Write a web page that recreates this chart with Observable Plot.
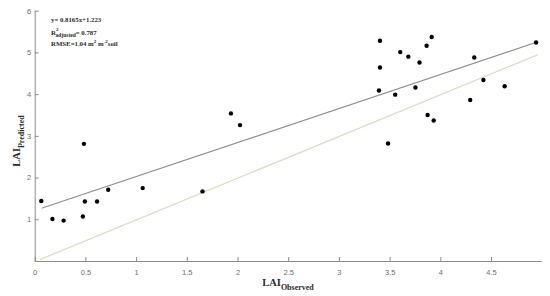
<!DOCTYPE html>
<html>
<head>
<meta charset="utf-8">
<script src="https://cdn.jsdelivr.net/npm/d3@7"></script>
<script src="https://cdn.jsdelivr.net/npm/@observablehq/plot@0.6"></script>
<style>
  html, body { margin: 0; padding: 0; background: #fff; }
  #chart svg { display: block; }
</style>
</head>
<body>
<div id="chart"></div>
<script>
// Observed vs predicted LAI
const observed  = [0.06, 0.17, 0.28, 0.47, 0.49, 0.61, 0.72, 1.06, 1.65, 0.48,
                   1.93, 2.02,
                   3.40, 3.40, 3.39, 3.48, 3.55, 3.60, 3.68, 3.75, 3.79, 3.86,
                   3.91, 3.87, 3.93, 4.29, 4.33, 4.42, 4.63, 4.94];
const predicted = [1.45, 1.02, 0.98, 1.08, 1.44, 1.44, 1.72, 1.76, 1.68, 2.82,
                   3.55, 3.27,
                   5.29, 4.65, 4.10, 2.83, 4.00, 5.02, 4.91, 4.17, 4.77, 5.17,
                   5.38, 3.51, 3.38, 3.87, 4.89, 4.35, 4.20, 5.25];

// fitted regression line (y = 0.8165x + 1.223) end points and 1:1 line end points
const fitX = [0.07, 4.95];
const fitY = [1.28, 5.26];
const oneX = [0.05, 4.95];
const oneY = [0.05, 4.95];

const xTicks = [0, 0.5, 1, 1.5, 2, 2.5, 3, 3.5, 4, 4.5];
const yTicks = [1, 2, 3, 4, 5, 6];

const points = observed.map((o, i) => ({o, p: predicted[i]}));
const fit = fitX.map((x, i) => ({x, y: fitY[i]}));
const one = oneX.map((x, i) => ({x, y: oneY[i]}));

const axisColor = "#8c8c8c";
const labelColor = "#6e6e6e";

const plot = Plot.plot({
  width: 550,
  height: 296,
  marginLeft: 34.7,
  marginRight: 8.3,
  marginTop: 10.7,
  marginBottom: 35,
  style: {fontFamily: "Liberation Sans, Arial, sans-serif", fontSize: "7.5px", background: "#fff"},
  x: {domain: [0, 5]},
  y: {domain: [0, 6]},
  marks: [
    Plot.ruleY([0], {stroke: axisColor, strokeWidth: 1}),
    Plot.ruleX([0], {y1: 0, y2: 6, stroke: axisColor, strokeWidth: 1}),
    Plot.axisX(xTicks, {tickSize: -4, text: null, stroke: axisColor, label: null}),
    Plot.axisX(xTicks, {tickSize: 0, tickPadding: 8, fill: labelColor, label: null, tickFormat: d => String(d)}),
    Plot.axisY(yTicks, {tickSize: -4, text: null, stroke: axisColor, label: null}),
    Plot.axisY(yTicks, {tickSize: 0, tickPadding: 4, fill: labelColor, label: null}),
    Plot.line(one, {x: "x", y: "y", stroke: "#dadcc4", strokeWidth: 1.3}),
    Plot.line(fit, {x: "x", y: "y", stroke: "#8e8e8e", strokeWidth: 1.1}),
    Plot.dot(points, {x: "o", y: "p", r: 2.2, fill: "#000", stroke: "none"})
  ]
});

document.getElementById("chart").appendChild(plot);

// Axis titles and annotation with sub/superscripts
const svg = d3.select(plot);
const serif = "Liberation Serif, 'DejaVu Serif', serif";
const dark = "#2b2b2b";

// x title
const xt = svg.append("text")
  .attr("x", 288).attr("y", 286)
  .attr("text-anchor", "middle")
  .attr("font-family", serif).attr("font-weight", "bold")
  .attr("fill", dark).attr("font-size", 10.5);
xt.append("tspan").text("LAI");
xt.append("tspan").attr("font-size", 8).attr("dy", 4).text("Observed");

// y title
const yt = svg.append("text")
  .attr("transform", "translate(19.5,141) rotate(-90)")
  .attr("text-anchor", "middle")
  .attr("font-family", serif).attr("font-weight", "bold")
  .attr("fill", dark).attr("font-size", 10.5);
yt.append("tspan").text("LAI");
yt.append("tspan").attr("font-size", 8).attr("dy", 4).text("Predicted");

// annotation
const ann = svg.append("g")
  .attr("font-family", serif).attr("font-weight", "bold")
  .attr("text-anchor", "start")
  .attr("fill", dark).attr("font-size", 6.8);
ann.append("text").attr("x", 51).attr("y", 21.5).text("y= 0.8165x+1.223");
const r2 = ann.append("text").attr("x", 51).attr("y", 34.5);
r2.append("tspan").text("R");
r2.append("tspan").attr("font-size", 5).attr("dy", -3.5).text("2");
r2.append("tspan").attr("font-size", 5.5).attr("dx", -2.8).attr("dy", 6).text("adjusted");
r2.append("tspan").attr("dy", -2.5).text("= 0.787");
const rm = ann.append("text").attr("x", 51).attr("y", 45.5);
rm.append("tspan").text("RMSE=1.04 m");
rm.append("tspan").attr("font-size", 5).attr("dy", -3).text("2");
rm.append("tspan").attr("dy", 3).text(" m");
rm.append("tspan").attr("font-size", 5).attr("dy", -3).text("-2");
rm.append("tspan").attr("dy", 3).text("soil");
</script>
</body>
</html>
